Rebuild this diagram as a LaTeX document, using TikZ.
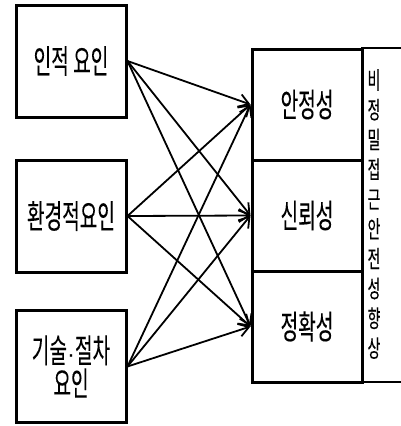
\documentclass[tikz,border=0pt]{standalone}
\usepackage{fontspec}
\setmainfont{Noto Sans CJK KR}[FakeStretch=0.58, FakeBold=0.12]
\newfontfamily\dotfont{Liberation Sans}
\usetikzlibrary{arrows.meta}

\tikzset{
    factor/.style={draw, line width=3pt, minimum width=110pt, minimum height=112pt,
        align=center, font=\fontsize{33}{33}\selectfont},
    quality/.style={draw, line width=3pt, minimum width=110pt, minimum height=111pt,
        font=\fontsize{33}{33}\selectfont},
    conn/.style={line width=1.8pt, -{Straight Barb[length=10pt, width=13pt]}}
}

\begin{document}
\begin{tikzpicture}[x=1pt, y=1pt]
    \useasboundingbox (0,0) rectangle (401,-426);

    % Outer column on the right
    \draw[line width=2.4pt] (362,-48) rectangle (412,-382);
    \node[align=center, font=\fontsize{24}{29.8}\selectfont] (goal) at (374,-214)
        {비\\정\\밀\\접\\근\\안\\전\\성\\향\\상};

    % Factor boxes on the left
    \node[factor] (human) at (71,-61) {인적 요인};
    \node[factor] (env) at (71,-216) {환경적요인};
    \node[factor] (tech) at (71,-366.5) {기술{\dotfont\fontsize{24}{33}\selectfont ·}절차\\요인};

    % Quality boxes
    \node[quality, fill=white] (stab) at (307,-104.5) {안정성};
    \node[quality, fill=white] (rel) at (307,-215.5) {신뢰성};
    \node[quality, fill=white] (acc) at (307,-326.5) {정확성};

    % Every factor points to every quality
    \foreach \src in {human, env, tech} {
        \foreach \dst in {stab, rel, acc} {
            \draw[conn] (\src.east) -- (\dst.west);
        }
    }
\end{tikzpicture}
\end{document}
